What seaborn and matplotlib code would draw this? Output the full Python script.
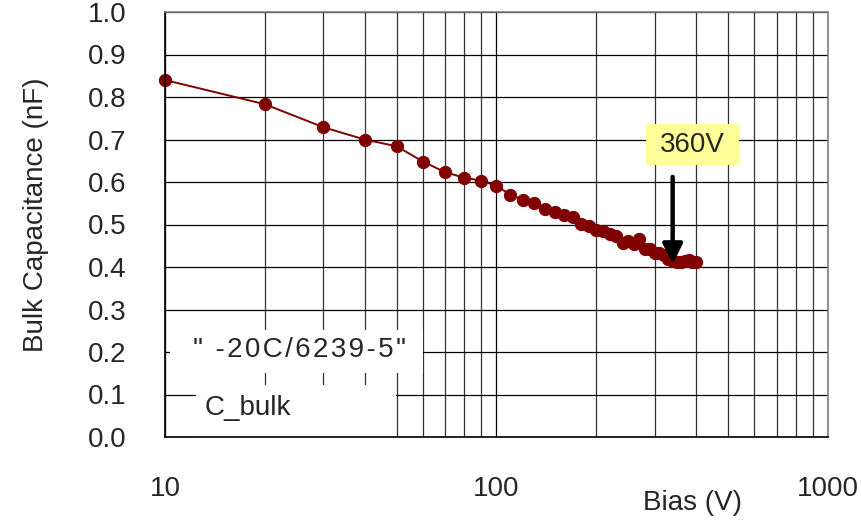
import matplotlib
matplotlib.use("Agg")
import matplotlib.pyplot as plt
import matplotlib.patches as mpatches
from matplotlib.ticker import LogLocator, NullFormatter, FixedLocator
import seaborn as sns
import pandas as pd

bias = [10, 20, 30, 40, 50, 60, 70, 80, 90, 100, 110, 120, 130, 140, 150,
        160, 170, 180, 190, 200, 210, 220, 230, 240, 250, 260, 270, 280, 290,
        300, 310, 320, 330, 340, 350, 360, 370, 380, 390, 400]
cap = [0.840, 0.783, 0.729, 0.700, 0.684, 0.648, 0.623, 0.610, 0.603, 0.591,
       0.570, 0.558, 0.550, 0.537, 0.529, 0.522, 0.518, 0.501, 0.496, 0.486,
       0.485, 0.478, 0.474, 0.457, 0.461, 0.455, 0.467, 0.443, 0.442, 0.433,
       0.433, 0.429, 0.420, 0.413, 0.412, 0.412, 0.413, 0.416, 0.412, 0.411]
x_ticks = [10, 100, 1000]
x_tick_labels = ["10", "100", "1000"]
y_ticks = [0.0, 0.1, 0.2, 0.3, 0.4, 0.5, 0.6, 0.7, 0.8, 0.9, 1.0]
y_tick_labels = ["0.0", "0.1", "0.2", "0.3", "0.4", "0.5", "0.6", "0.7", "0.8", "0.9", "1.0"]
series_label = "\" -20C/6239-5\""
legend_label = "C_bulk"
annot_text = "360V"
annot_x = 340
annot_y_tip = 0.407
annot_y_tail = 0.612

df = pd.DataFrame({"Bias": bias, "Cap": cap})

sns.set_style("white")
plt.rcParams["font.family"] = ["Liberation Sans", "DejaVu Sans"]

fig = plt.figure(figsize=(8.62, 5.24), dpi=100)
ax = fig.add_axes([165 / 862, 1 - 437 / 524, 663 / 862, 425 / 524])

ax.set_xscale("log")
ax.set_xlim(10, 1000)
ax.set_ylim(0, 1.0)

# grid
ax.xaxis.set_major_locator(FixedLocator(x_ticks))
ax.xaxis.set_minor_locator(LogLocator(base=10, subs=range(2, 10)))
ax.xaxis.set_minor_formatter(NullFormatter())
ax.set_xticks(x_ticks)
ax.set_xticklabels(x_tick_labels)
ax.set_yticks(y_ticks)
ax.set_yticklabels(y_tick_labels)
ax.grid(True, which="major", axis="both", color="black", lw=0.9, zorder=0)
ax.grid(True, which="minor", axis="x", color="#333333", lw=0.9, zorder=0)
ax.set_axisbelow(True)

ax.tick_params(axis="both", which="both", length=0, labelsize=20)
ax.tick_params(axis="x", pad=28)
ax.tick_params(axis="y", pad=28)

# white text boxes covering grid
ax.add_patch(mpatches.Rectangle((0.0075, 0.1506), 0.3815, 0.1012, transform=ax.transAxes,
                                facecolor="white", edgecolor="none", zorder=1.5))
ax.add_patch(mpatches.Rectangle((0.0468, 0.0), 0.3012, 0.1224, transform=ax.transAxes,
                                facecolor="white", edgecolor="none", zorder=1.5))
spaced_label = "\u200a".join(series_label)
ax.text(0.2036, 0.205, spaced_label, transform=ax.transAxes, ha="center", va="center",
        fontsize=20, zorder=2)
ax.text(0.060, 0.068, legend_label, transform=ax.transAxes, ha="left", va="center",
        fontsize=20, zorder=2)

sns.lineplot(data=df, x="Bias", y="Cap", ax=ax, color="#800000", lw=1.4,
             marker="o", markersize=8.8, markeredgecolor="#800000", zorder=3,
             clip_on=False)

# annotation
ax.add_patch(mpatches.Rectangle((0.7255, 0.64), 0.1403, 0.0965, transform=ax.transAxes,
                                facecolor="#FFFF99", edgecolor="none", zorder=4))
ax.text(0.7956, 0.688, annot_text, transform=ax.transAxes, ha="center", va="center",
        fontsize=20, zorder=5)
ax.annotate("", xy=(annot_x, annot_y_tip), xytext=(annot_x, annot_y_tail),
            arrowprops=dict(arrowstyle="-|>,head_length=1.2,head_width=0.6",
                            lw=3.2, color="black", shrinkA=0, shrinkB=0), zorder=6)

# spines
for side in ["top", "right"]:
    ax.spines[side].set_color("#808080")
    ax.spines[side].set_linewidth(1.2)
for side in ["left", "bottom"]:
    ax.spines[side].set_color("black")
    ax.spines[side].set_linewidth(1.2)
for s in ax.spines.values():
    s.set_zorder(7)

ax.set_xlabel("Bias (V)", fontsize=20, va="center")
ax.xaxis.set_label_coords((693 - 165) / 663, (437 - 503) / 425)
ax.set_ylabel("Bulk Capacitance (nF)", fontsize=20, va="center")
ax.yaxis.set_label_coords((36 - 165) / 663, (437 - 215) / 425)

fig.savefig("out.png", dpi=100)
